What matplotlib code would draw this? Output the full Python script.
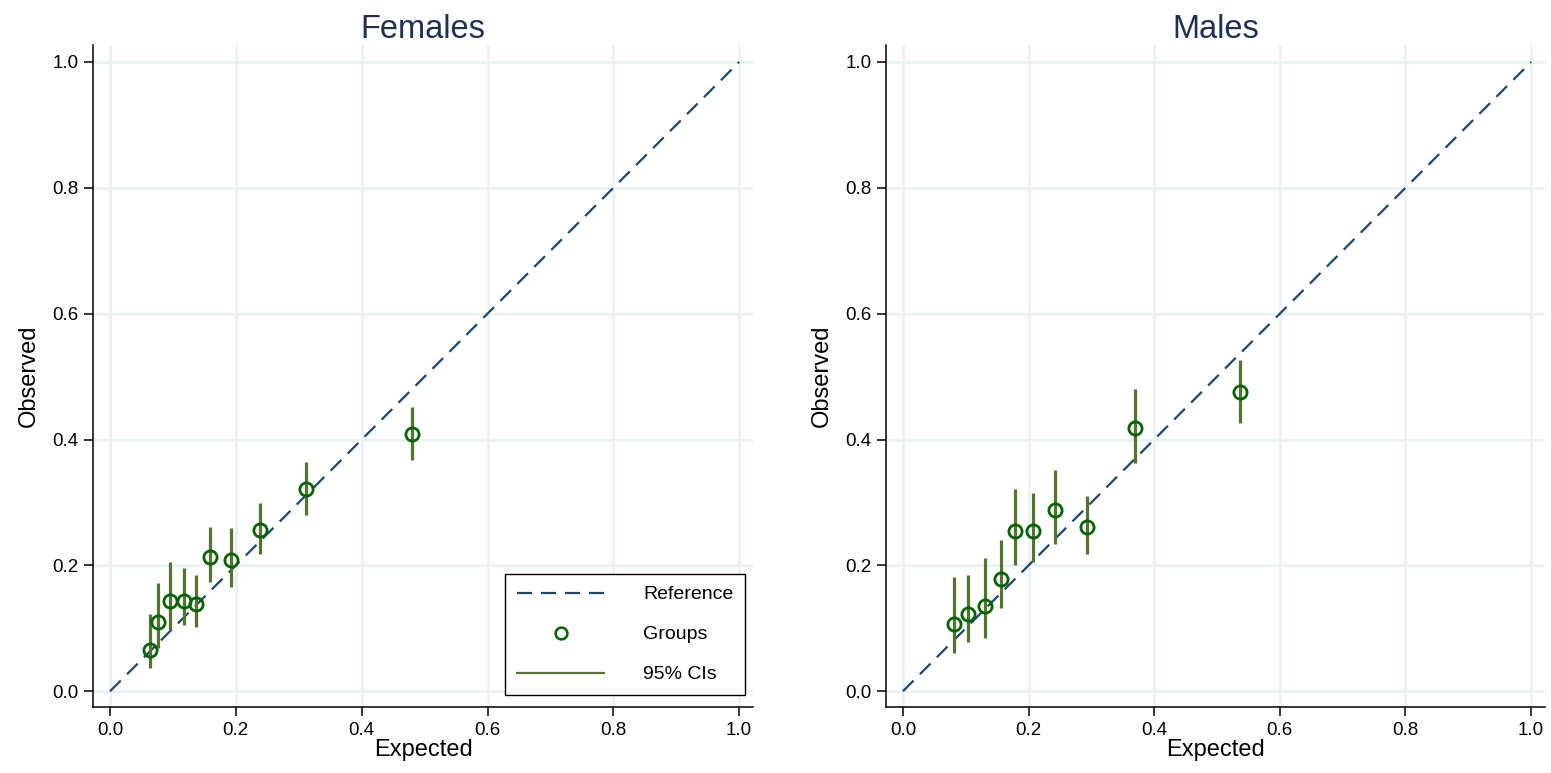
import matplotlib.pyplot as plt
from matplotlib.lines import Line2D

plt.rcParams['font.family'] = ['Liberation Sans', 'DejaVu Sans']

# Calibration groups
fem_expected = [0.064, 0.077, 0.095, 0.117, 0.137, 0.159, 0.192, 0.239, 0.312, 0.480]
fem_observed = [0.066, 0.110, 0.144, 0.144, 0.138, 0.214, 0.208, 0.256, 0.321, 0.409]
fem_lo = [0.037, 0.069, 0.098, 0.105, 0.102, 0.174, 0.166, 0.218, 0.280, 0.368]
fem_hi = [0.122, 0.172, 0.205, 0.196, 0.185, 0.261, 0.259, 0.299, 0.364, 0.452]

male_expected = [0.081, 0.104, 0.131, 0.156, 0.179, 0.207, 0.242, 0.293, 0.369, 0.537]
male_observed = [0.107, 0.122, 0.136, 0.179, 0.255, 0.255, 0.288, 0.261, 0.419, 0.476]
male_lo = [0.061, 0.078, 0.085, 0.132, 0.201, 0.205, 0.234, 0.218, 0.363, 0.427]
male_hi = [0.181, 0.184, 0.211, 0.240, 0.321, 0.315, 0.351, 0.310, 0.481, 0.526]

ticks = [0.0, 0.2, 0.4, 0.6, 0.8, 1.0]

NAVY = '#1a476f'
GREEN = '#006400'
OLIVE = '#55752f'
GRID = '#eaf2f3'
DASH = (6.8, 4)

fig = plt.figure(figsize=(15.51, 7.73), dpi=100)
ax1 = fig.add_axes([0.060, 0.0854, 0.4255, 0.8564])
ax2 = fig.add_axes([0.5712, 0.0854, 0.4249, 0.8564])


def panel(ax, title, ex, ob, lo, hi):
    ax.set_xlim(-0.027, 1.022)
    ax.set_ylim(-0.025, 1.027)
    ax.set_xticks(ticks)
    ax.set_yticks(ticks)
    ax.set_xticklabels([f'{t:.1f}' for t in ticks])
    ax.set_yticklabels([f'{t:.1f}' for t in ticks])
    ax.grid(True, color=GRID, linewidth=2)
    ax.set_axisbelow(True)
    for s in ['top', 'right']:
        ax.spines[s].set_visible(False)
    ax.spines['left'].set_linewidth(1.1)
    ax.spines['bottom'].set_linewidth(1.1)
    ax.tick_params(labelsize=13.5, length=6.5, width=1.1, direction='out', pad=4)

    ax.plot([0, 1], [0, 1], color=NAVY, linewidth=1.6, dashes=DASH)
    ax.vlines(ex, lo, hi, color=OLIVE, linewidth=2.3)
    ax.plot(ex, ob, linestyle='none', marker='o', markersize=9.5,
            markerfacecolor='none', markeredgecolor=GREEN, markeredgewidth=2)

    ax.set_title(title, fontsize=23.5, color='#1f2f55', pad=5)
    ax.set_xlabel('Expected', fontsize=17, labelpad=0)
    ax.set_ylabel('Observed', fontsize=17, labelpad=9)


panel(ax1, 'Females', fem_expected, fem_observed, fem_lo, fem_hi)
panel(ax2, 'Males', male_expected, male_observed, male_lo, male_hi)

handles = [
    Line2D([], [], color=NAVY, linewidth=1.6, dashes=DASH),
    Line2D([], [], linestyle='none', marker='o', markersize=8.5,
           markerfacecolor='none', markeredgecolor=GREEN, markeredgewidth=1.8),
    Line2D([], [], color=OLIVE, linewidth=1.6),
]
leg = ax1.legend(handles, ['Reference', 'Groups', '95% CIs'], loc='lower right',
                 bbox_to_anchor=(0.988, 0.018), borderaxespad=0, fontsize=14,
                 handlelength=4.5, handletextpad=2.0, labelspacing=1.15,
                 borderpad=0.6, fancybox=False, edgecolor='black', framealpha=1)
leg.get_frame().set_linewidth(1.0)

fig.savefig('out.png', dpi=100, facecolor='white')
